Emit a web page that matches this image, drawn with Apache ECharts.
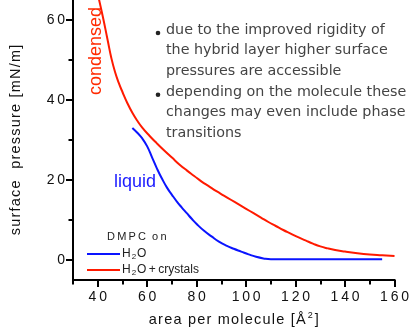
<!DOCTYPE html>
<html>
<head>
<meta charset="utf-8">
<script src="https://cdn.jsdelivr.net/npm/echarts@6/dist/echarts.min.js"></script>
<style>
  html, body { margin: 0; padding: 0; background: #fff; }
  #chart { width: 412px; height: 332px; }
</style>
</head>
<body>
<div id="chart"></div>
<script>
  // isotherms: [area per molecule, surface pressure]
  var waterData = [
    [54, 33], [56, 31.8], [58, 30.4], [60, 28.4], [62, 25.6], [64, 22.8],
    [66, 20.3], [68, 18.1], [70, 16.3], [72, 14.6], [74, 13.1], [76, 11.7],
    [78, 10.3], [80, 9], [83, 7.3], [86, 5.9], [89, 4.6], [92, 3.6],
    [95, 2.8], [98, 2.1], [101, 1.4], [104, 0.8], [107, 0.4], [110, 0.2],
    [120, 0.2], [130, 0.2], [140, 0.2], [155, 0.2]
  ];
  var crystalData = [
    [40, 66.5], [42, 61], [44, 55], [45.5, 50.5], [47, 47], [48.5, 44.3],
    [50, 42], [52, 39.2], [54, 36.8], [56, 34.8], [58, 33.1], [61, 31],
    [64, 29.1], [67, 27.3], [70, 25.6], [73, 23.9], [76, 22.4], [79, 21],
    [82, 19.6], [85, 18.4], [88, 17.2], [91, 16.1], [94, 15], [97, 13.9],
    [100, 12.8], [103, 11.7], [106, 10.6], [109, 9.5], [112, 8.5], [115, 7.5],
    [118, 6.6], [121, 5.7], [124, 4.9], [127, 4.1], [130, 3.4], [133, 2.9],
    [136, 2.5], [140, 2.1], [145, 1.7], [150, 1.4], [155, 1.2], [160, 1.0]
  ];
  var xMajor = [40, 60, 80, 100, 120, 140, 160];
  var xMinor = [30, 50, 70, 90, 110, 130, 150];
  var yMajor = [0, 20, 40, 60];
  var yMinor = [10, 30, 50];
  var notes = [
    'due to the improved rigidity of',
    'the hybrid layer higher surface',
    'pressures are accessible',
    'depending on the molecule these',
    'changes may even include phase',
    'transitions'
  ];
  var bulletLines = [0, 3];

  function spaced(v) {
    return String(v).split('').join('\u2009');
  }
  function airy(s) {
    return s.split('').join('\u200a');
  }

  var chart = echarts.init(document.getElementById('chart'));

  var graphics = [];
  notes.forEach(function (line, i) {
    graphics.push({
      type: 'text', left: 166, top: 23 + i * 20.6,
      style: { text: line, font: '14.3px "DejaVu Sans"', fill: '#444' }
    });
    if (bulletLines.indexOf(i) >= 0) {
      graphics.push({
        type: 'circle', shape: { cx: 158, cy: 33 + i * 20.6, r: 2.3 },
        style: { fill: '#222' }
      });
    }
  });
  graphics.push({
    type: 'text', x: 96, y: 51, rotation: Math.PI / 2,
    style: { text: 'condensed', font: '18px "Liberation Sans"', fill: '#ff2a00', align: 'center', verticalAlign: 'middle' }
  });
  graphics.push({
    type: 'text', left: 114, top: 173,
    style: { text: 'liquid', font: '18px "Liberation Sans"', fill: '#1a1aff' }
  });
  graphics.push({
    type: 'text', left: 107, top: 231,
    style: { text: 'D\u2009M\u2009P\u2009C  o\u2009n', font: '11px "Liberation Sans"', fill: '#222' }
  });

  var axisFont = { fontFamily: 'Liberation Sans', fontSize: 14, color: '#111' };
  var axisLineStyle = { color: '#000', width: 2 };

  chart.setOption({
    backgroundColor: '#fff',
    animation: false,
    grid: { left: 72, right: 16, top: 0, bottom: 48 },
    legend: {
      orient: 'vertical',
      left: 82,
      top: 243,
      itemWidth: 33,
      itemHeight: 2,
      itemGap: 3,
      icon: 'rect',
      data: ['H2O', 'H2O+crystals'],
      formatter: function (name) {
        if (name === 'H2O') return '{t|H}{s|2}{t|O}';
        return '{t|H}{s|2}{t|O\u2009+\u2009crystals}';
      },
      textStyle: {
        padding: [0, 0, 0, -3],
        rich: {
          t: { fontFamily: 'Liberation Sans', fontSize: 12, color: '#222' },
          s: { fontFamily: 'Liberation Sans', fontSize: 8, color: '#222', verticalAlign: 'bottom', padding: [6, 1, 0, 1] }
        }
      }
    },
    xAxis: [{
      type: 'value',
      min: 30,
      max: 160,
      name: '{t|' + airy('area per molecule [\u00c5') + '}{s|2}{t|]}',
      nameLocation: 'middle',
      nameGap: 31,
      nameTextStyle: {
        rich: {
          t: { fontFamily: 'Liberation Sans', fontSize: 14.5, color: '#111' },
          s: { fontFamily: 'Liberation Sans', fontSize: 9, color: '#111', verticalAlign: 'top', padding: [0, 2, 8, 2] }
        }
      },
      axisLine: { onZero: false, lineStyle: axisLineStyle },
      axisTick: { customValues: xMajor, length: 7, lineStyle: axisLineStyle },
      axisLabel: { customValues: xMajor, margin: 10, formatter: spaced, ...axisFont },
      splitLine: { show: false }
    }, {
      type: 'value',
      min: 30,
      max: 160,
      position: 'bottom',
      axisLine: { onZero: false, lineStyle: axisLineStyle },
      axisTick: { customValues: xMinor, length: 4.5, lineStyle: axisLineStyle },
      axisLabel: { show: false },
      splitLine: { show: false }
    }],
    yAxis: [{
      type: 'value',
      min: -5,
      max: 65,
      name: airy('surface  pressure [mN/m]'),
      nameLocation: 'middle',
      nameGap: 50,
      nameTextStyle: { fontFamily: 'Liberation Sans', fontSize: 14.5, color: '#111' },
      axisLine: { onZero: false, lineStyle: axisLineStyle },
      axisTick: { customValues: yMajor, length: 7, lineStyle: axisLineStyle },
      axisLabel: { customValues: yMajor, margin: 8, formatter: spaced, ...axisFont },
      splitLine: { show: false }
    }, {
      type: 'value',
      min: -5,
      max: 65,
      position: 'left',
      axisLine: { onZero: false, lineStyle: axisLineStyle },
      axisTick: { customValues: yMinor, length: 4.5, lineStyle: axisLineStyle },
      axisLabel: { show: false },
      splitLine: { show: false }
    }],
    series: [{
      name: 'H2O',
      type: 'line',
      data: waterData,
      smooth: 0.5,
      symbol: 'none',
      itemStyle: { color: '#0a14ff' },
      lineStyle: { color: '#0a14ff', width: 2 }
    }, {
      name: 'H2O+crystals',
      type: 'line',
      data: crystalData,
      smooth: 0.5,
      symbol: 'none',
      itemStyle: { color: '#ff1a00' },
      lineStyle: { color: '#ff1a00', width: 2 }
    }],
    graphic: graphics
  });
</script>
</body>
</html>
